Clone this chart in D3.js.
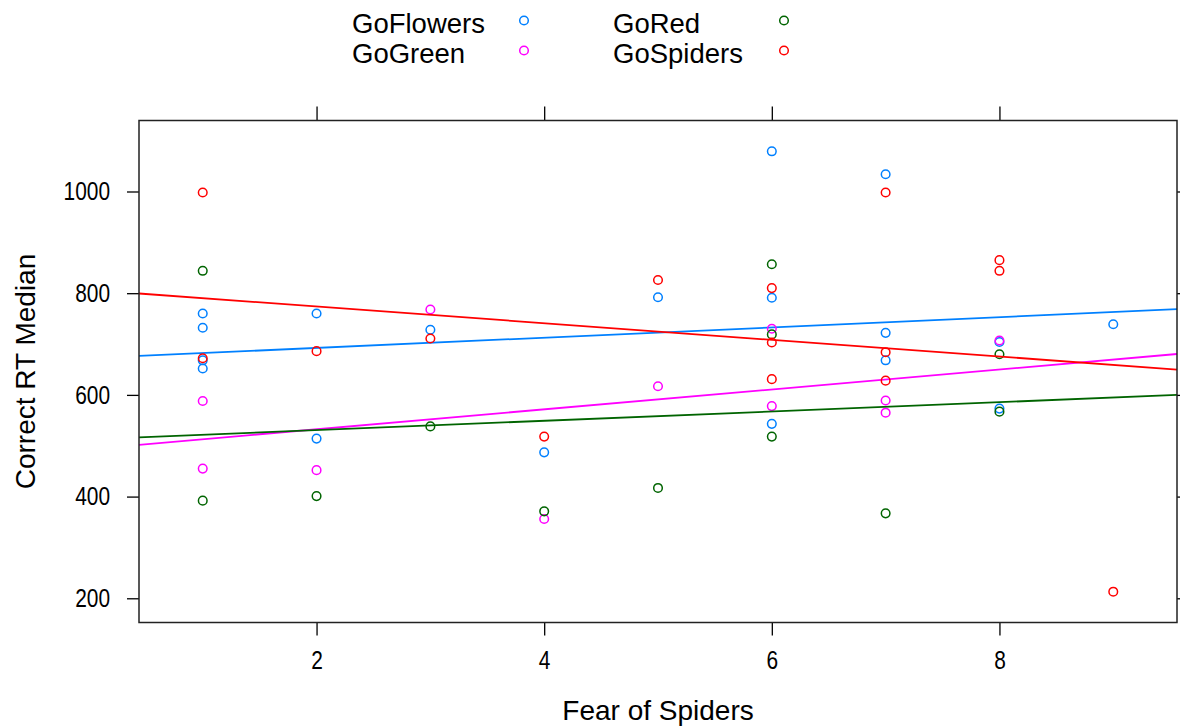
<!DOCTYPE html>
<html>
<head>
<meta charset="utf-8">
<script src="https://cdn.jsdelivr.net/npm/d3@7"></script>
<style>
  body { margin: 0; background: #fff; }
  svg { display: block; }
</style>
</head>
<body>
<div id="chart"></div>
<script>
// groups and their colours (lattice superpose defaults)
const groups = ["GoFlowers", "GoGreen", "GoRed", "GoSpiders"];
const groupColors = ["#0080ff", "#ff00ff", "#006400", "#ff0000"];

// fear of spiders score and correct RT median
const flowersFear = [1, 1, 1, 1, 2, 2, 3, 4, 5, 6, 6, 6, 7, 7, 7, 8, 8, 9];
const flowersRT   = [760, 732, 668, 652, 760, 514, 728, 487, 792, 1079, 791, 543, 1034, 722, 668, 704, 573, 739];

const greenFear = [1, 1, 2, 3, 4, 5, 6, 6, 7, 7, 8];
const greenRT   = [588, 455, 452, 768, 356, 617, 730, 578, 589, 565, 707];

const redFear = [1, 1, 2, 3, 4, 5, 6, 6, 6, 7, 8, 8];
const redRT   = [844, 392, 401, 538, 371, 417, 857, 719, 518, 367, 680, 567];

const spidersFear = [1, 1, 2, 3, 4, 5, 6, 6, 6, 7, 7, 7, 8, 8, 9];
const spidersRT   = [998, 672, 686, 711, 518, 826, 810, 703, 631, 998, 684, 628, 865, 844, 213];

const xTicks = [2, 4, 6, 8];
const yTicks = [200, 400, 600, 800, 1000];

const series = [
  { name: groups[0], col: groupColors[0], x: flowersFear, y: flowersRT },
  { name: groups[1], col: groupColors[1], x: greenFear, y: greenRT },
  { name: groups[2], col: groupColors[2], x: redFear, y: redRT },
  { name: groups[3], col: groupColors[3], x: spidersFear, y: spidersRT }
];

// plain least squares fit, like panel.lmline
function lm(xs, ys) {
  const mx = d3.mean(xs), my = d3.mean(ys);
  let sxy = 0, sxx = 0;
  xs.forEach((v, i) => { sxy += (v - mx) * (ys[i] - my); sxx += (v - mx) ** 2; });
  const b = sxy / sxx;
  return { a: my - b * mx, b: b };
}

const W = 1180, H = 726;
const panel = { left: 139, right: 1177, top: 120.5, bottom: 622.5 };

// lattice pads the data range by 7% on each side
function padded(vals) {
  const [lo, hi] = d3.extent(vals);
  const p = (hi - lo) * 0.07;
  return [lo - p, hi + p];
}
const allX = series.flatMap(s => s.x);
const allY = series.flatMap(s => s.y);

const x = d3.scaleLinear().domain(padded(allX)).range([panel.left, panel.right]);
const y = d3.scaleLinear().domain(padded(allY)).range([panel.bottom, panel.top]);

const svg = d3.select("#chart").append("svg")
  .attr("width", W)
  .attr("height", H);

svg.append("defs").append("clipPath").attr("id", "clip")
  .append("rect")
  .attr("x", panel.left).attr("y", panel.top)
  .attr("width", panel.right - panel.left)
  .attr("height", panel.bottom - panel.top);

const labelFont = "'Liberation Sans', Arial, sans-serif";

// axes (ticks on all four sides, labels left and bottom)
// tick labels in the reference are a narrow face, so squeeze them sideways
function styleAxis(g) {
  g.select(".domain").remove();
  g.selectAll(".tick line").attr("stroke", "#000").attr("stroke-width", 1.3);
  g.selectAll(".tick text")
    .attr("fill", "#000")
    .style("font-family", labelFont)
    .style("font-size", "25.5px")
    .attr("transform", function () {
      const tx = +this.getAttribute("x") || 0;
      return `translate(${tx},0) scale(0.82,1)`;
    })
    .attr("x", 0);
}

svg.append("g")
  .attr("transform", `translate(${panel.left},0)`)
  .call(d3.axisLeft(y).tickValues(yTicks).tickSize(12).tickPadding(17).tickFormat(d3.format("d")))
  .call(styleAxis);

svg.append("g")
  .attr("transform", `translate(${panel.right},0)`)
  .call(d3.axisRight(y).tickValues(yTicks).tickSize(12).tickFormat(""))
  .call(styleAxis);

svg.append("g")
  .attr("transform", `translate(0,${panel.bottom})`)
  .call(d3.axisBottom(x).tickValues(xTicks).tickSize(13).tickPadding(15))
  .call(styleAxis);

svg.append("g")
  .attr("transform", `translate(0,${panel.top})`)
  .call(d3.axisTop(x).tickValues(xTicks).tickSize(14).tickFormat(""))
  .call(styleAxis);

// points and regression line per group
const plot = svg.append("g").attr("clip-path", "url(#clip)");
const xd = x.domain();

series.forEach(s => {
  const pts = s.x.map((v, i) => ({ fx: v, rt: s.y[i] }));
  plot.append("g").selectAll("circle")
    .data(pts)
    .enter()
    .append("circle")
    .attr("cx", d => x(d.fx))
    .attr("cy", d => y(d.rt))
    .attr("r", 4.3)
    .attr("fill", "none")
    .attr("stroke", s.col)
    .attr("stroke-width", 1.5);

  const fit = lm(s.x, s.y);
  plot.append("line")
    .attr("x1", x(xd[0])).attr("y1", y(fit.a + fit.b * xd[0]))
    .attr("x2", x(xd[1])).attr("y2", y(fit.a + fit.b * xd[1]))
    .attr("stroke", s.col)
    .attr("stroke-width", 1.8);
});

// panel box
svg.append("rect")
  .attr("x", panel.left).attr("y", panel.top)
  .attr("width", panel.right - panel.left)
  .attr("height", panel.bottom - panel.top)
  .attr("fill", "none")
  .attr("stroke", "#222")
  .attr("stroke-width", 1.5);

// axis titles
svg.append("text")
  .attr("x", (panel.left + panel.right) / 2)
  .attr("y", 720)
  .attr("text-anchor", "middle")
  .style("font-family", labelFont)
  .style("font-size", "28px")
  .text("Fear of Spiders");

svg.append("text")
  .attr("transform", `translate(35,${(panel.top + panel.bottom) / 2}) rotate(-90)`)
  .attr("text-anchor", "middle")
  .style("font-family", labelFont)
  .style("font-size", "28px")
  .text("Correct RT Median");

// key, two columns
const keyPos = [
  { tx: 352, px: 524, ty: 33 },
  { tx: 352, px: 524, ty: 63 },
  { tx: 613, px: 784, ty: 33 },
  { tx: 613, px: 784, ty: 63 }
];
const key = svg.append("g");
series.forEach((s, i) => {
  const k = keyPos[i];
  key.append("text")
    .attr("x", k.tx).attr("y", k.ty)
    .style("font-family", labelFont)
    .style("font-size", "27.5px")
    .attr("fill", "#000")
    .text(s.name);
  key.append("circle")
    .attr("cx", k.px).attr("cy", k.ty - 12.5)
    .attr("r", 4.3)
    .attr("fill", "none")
    .attr("stroke", s.col)
    .attr("stroke-width", 1.5);
});
</script>
</body>
</html>
